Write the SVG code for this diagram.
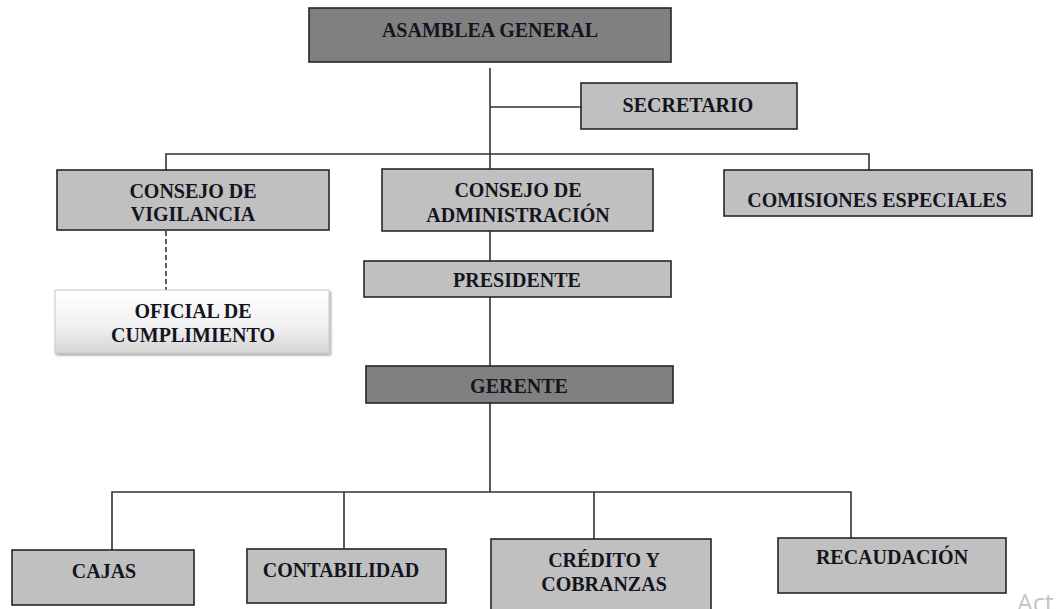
<svg xmlns="http://www.w3.org/2000/svg" width="1059" height="609" viewBox="0 0 1059 609">
<style>
.box{stroke:#262626;stroke-width:1.6}
.dark{fill:#808080}
.light{fill:#c0c0c0}
.t{font-family:"Liberation Serif","Times New Roman","DejaVu Serif",serif;font-weight:bold;font-size:20px;fill:#14141e;text-anchor:middle}
.c{stroke:#333;stroke-width:1.6;fill:none}
</style>
<defs>
<linearGradient id="g" x1="0" y1="0" x2="0" y2="1">
<stop offset="0" stop-color="#ffffff"/>
<stop offset="0.6" stop-color="#f0f0f0"/>
<stop offset="1" stop-color="#d4d4d4"/>
</linearGradient>
<filter id="sh" x="-5%" y="-5%" width="112%" height="125%">
<feDropShadow dx="1.5" dy="2" stdDeviation="1.2" flood-color="#000" flood-opacity="0.35"/>
</filter>
</defs>
<rect width="1059" height="609" fill="#ffffff"/>
<g id="connectors">
<path class="c" d="M490 68V154M490 107H581M166 170V154H869V170M490 154V169M490 231V261M490 297V366M490 403V492M112 550V492H851V538M344 492V549M594 492V539"/>
<path class="c" d="M166 231V290" stroke-dasharray="5,3"/>
</g>
<g id="asamblea"><rect class="box dark" x="309" y="8" width="362" height="54"/><text class="t" x="490" y="37">ASAMBLEA GENERAL</text></g>
<g id="secretario"><rect class="box light" x="581" y="83" width="216" height="46"/><text class="t" x="688" y="112">SECRETARIO</text></g>
<g id="vigilancia"><rect class="box light" x="57" y="170" width="272" height="60"/><text class="t" x="193" y="198">CONSEJO DE</text><text class="t" x="193" y="221">VIGILANCIA</text></g>
<g id="administracion"><rect class="box light" x="382" y="169" width="271" height="62"/><text class="t" x="518" y="197">CONSEJO DE</text><text class="t" x="518" y="222">ADMINISTRACIÓN</text></g>
<g id="comisiones"><rect class="box light" x="724" y="170" width="308" height="46"/><text class="t" x="877" y="207">COMISIONES ESPECIALES</text></g>
<g id="oficial"><rect x="55" y="290" width="274" height="63" fill="url(#g)" stroke="#c8c8c8" stroke-width="1" filter="url(#sh)"/><text class="t" x="193" y="318">OFICIAL DE</text><text class="t" x="193" y="342">CUMPLIMIENTO</text></g>
<g id="presidente"><rect class="box light" x="364" y="261" width="307" height="36"/><text class="t" x="517" y="287">PRESIDENTE</text></g>
<g id="gerente"><rect class="box dark" x="366" y="366" width="307" height="37"/><text class="t" x="519" y="393">GERENTE</text></g>
<g id="cajas"><rect class="box light" x="12" y="550" width="182" height="55"/><text class="t" x="104" y="578">CAJAS</text></g>
<g id="contabilidad"><rect class="box light" x="247" y="549" width="199" height="54"/><text class="t" x="341" y="577">CONTABILIDAD</text></g>
<g id="credito"><rect class="box light" x="491" y="539" width="220" height="80"/><text class="t" x="604" y="567">CRÉDITO Y</text><text class="t" x="604" y="591">COBRANZAS</text></g>
<g id="recaudacion"><rect class="box light" x="778" y="538" width="228" height="55"/><text class="t" x="892" y="564">RECAUDACIÓN</text></g>
<text x="1017" y="612" font-family="'Open Sans','Noto Sans',sans-serif" font-size="25" fill="#c4c4c4">Act</text>
</svg>
